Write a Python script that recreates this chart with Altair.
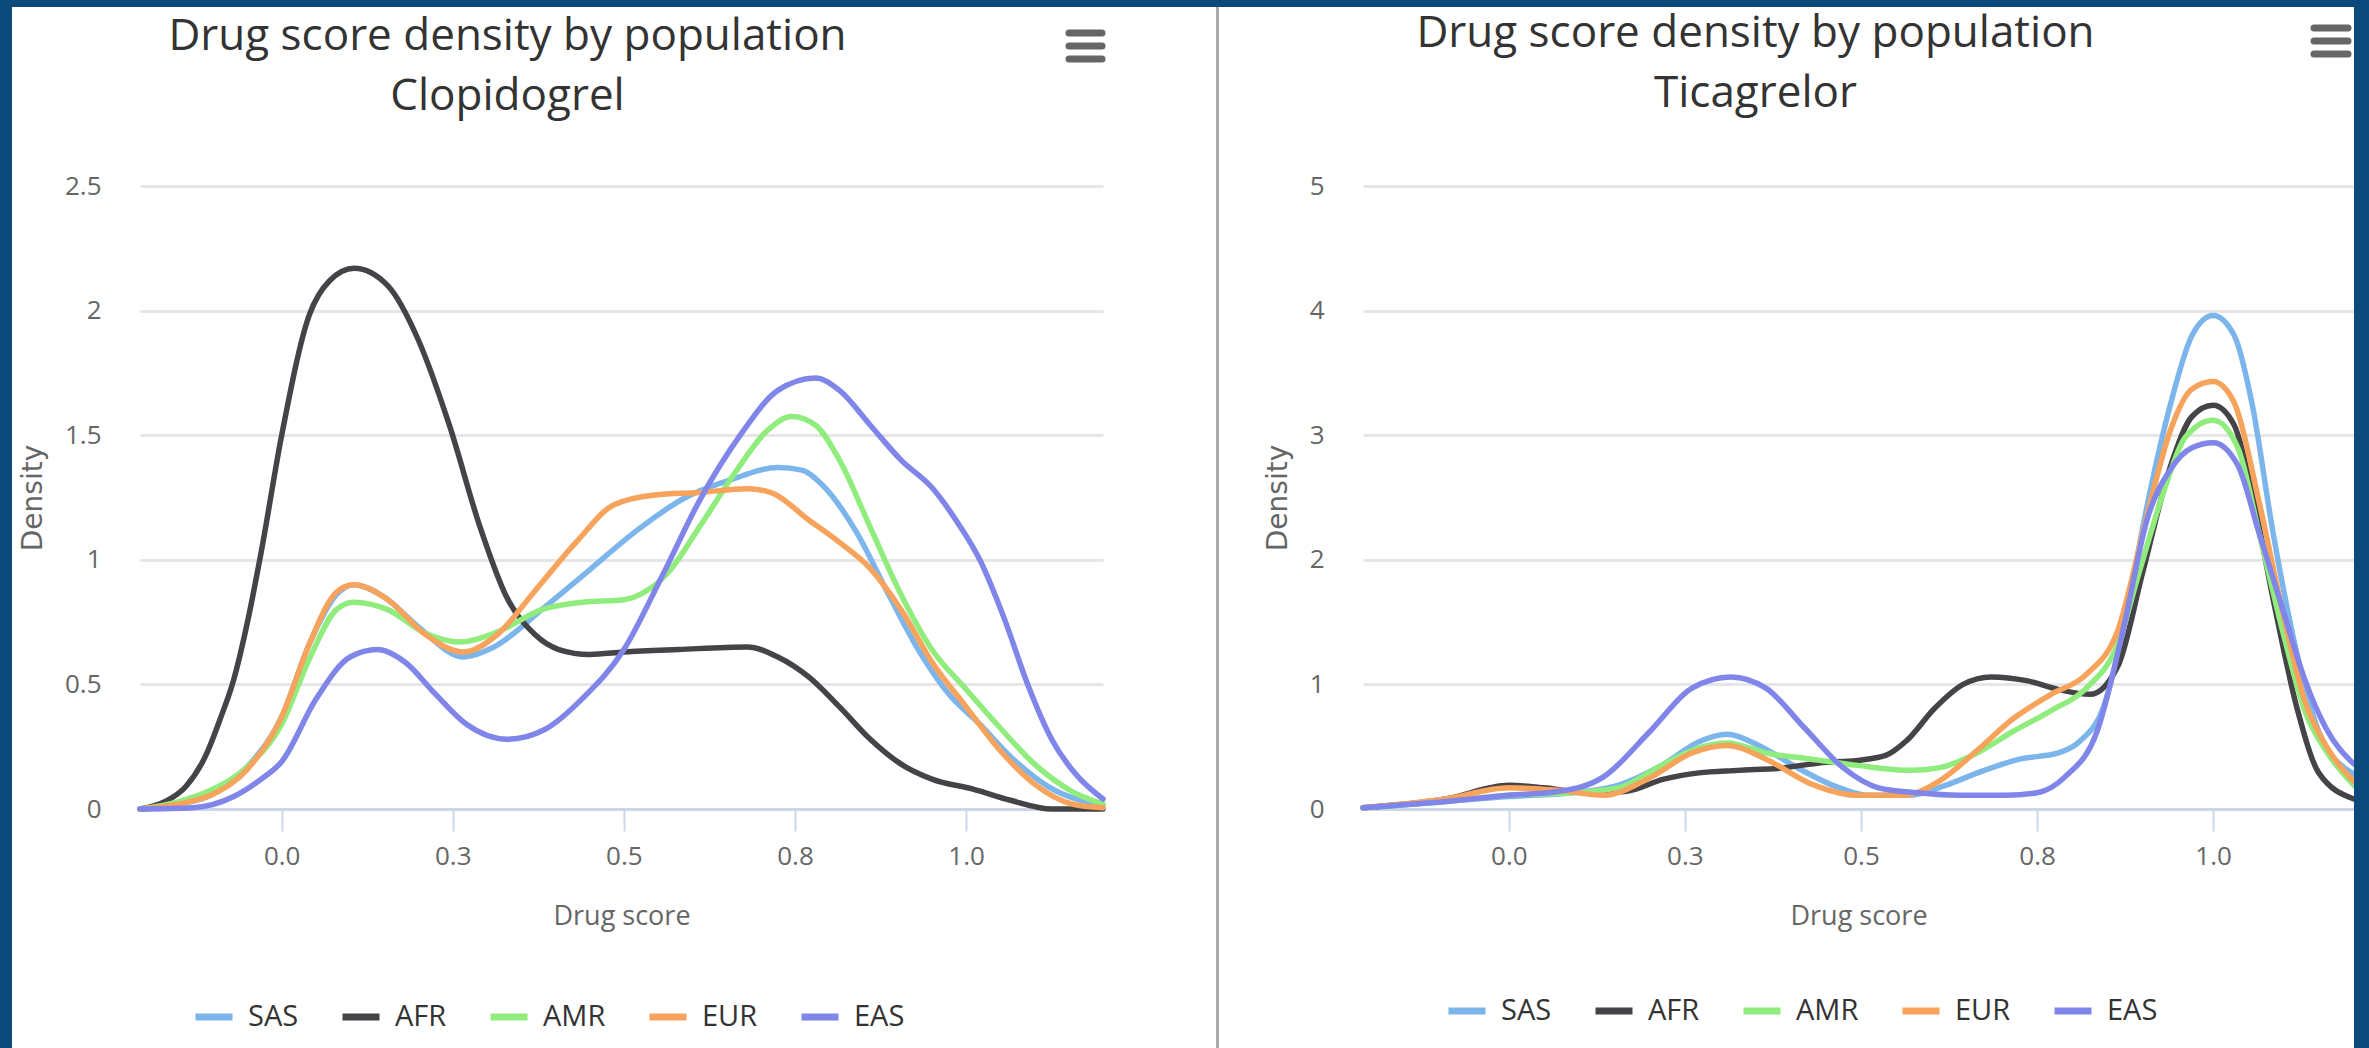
import altair as alt
import pandas as pd

# Populations, in legend / drawing order, with their line colours
POPULATIONS = ["SAS", "AFR", "AMR", "EUR", "EAS"]
COLORS = ["#7cb5ec", "#434348", "#90ed7d", "#f7a35c", "#8085e9"]

X_TICKS = [0.0, 0.25, 0.5, 0.75, 1.0]

# ---- Clopidogrel density curves (drug score, density) ----
clop_sas_x = [-0.207, -0.15, -0.10, -0.05, 0.0, 0.04, 0.08, 0.105, 0.15, 0.20, 0.265, 0.31, 0.38, 0.45,
              0.52, 0.59, 0.655, 0.725, 0.76, 0.79, 0.84, 0.885, 0.93, 0.975, 1.02, 1.065, 1.12, 1.2]
clop_sas_y = [0.0, 0.02, 0.06, 0.17, 0.37, 0.66, 0.86, 0.90, 0.85, 0.73, 0.61, 0.65, 0.80, 0.96,
              1.12, 1.25, 1.32, 1.37, 1.36, 1.30, 1.11, 0.87, 0.64, 0.46, 0.34, 0.21, 0.09, 0.015]

clop_afr_x = [-0.207, -0.17, -0.14, -0.11, -0.09, -0.07, -0.05, -0.03, 0.0, 0.04, 0.07, 0.106, 0.155,
              0.20, 0.245, 0.29, 0.327, 0.37, 0.405, 0.45, 0.50, 0.58, 0.68, 0.725, 0.77, 0.815, 0.86,
              0.905, 0.95, 1.01, 1.065, 1.125, 1.2]
clop_afr_y = [0.0, 0.03, 0.09, 0.22, 0.36, 0.52, 0.75, 1.03, 1.50, 1.98, 2.12, 2.17, 2.10,
              1.88, 1.54, 1.13, 0.86, 0.70, 0.64, 0.62, 0.63, 0.64, 0.65, 0.61, 0.53, 0.41, 0.28,
              0.18, 0.12, 0.08, 0.035, 0.0, 0.0]

clop_amr_x = [-0.207, -0.15, -0.10, -0.05, 0.0, 0.04, 0.08, 0.105, 0.155, 0.21, 0.26, 0.315, 0.38,
              0.44, 0.50, 0.53, 0.565, 0.61, 0.665, 0.71, 0.745, 0.78, 0.815, 0.86, 0.905, 0.95, 1.0,
              1.045, 1.10, 1.155, 1.2]
clop_amr_y = [0.0, 0.03, 0.08, 0.17, 0.34, 0.60, 0.80, 0.83, 0.80, 0.705, 0.67, 0.71, 0.80,
              0.83, 0.84, 0.87, 0.95, 1.13, 1.36, 1.52, 1.575, 1.54, 1.40, 1.13, 0.86, 0.64, 0.48,
              0.34, 0.18, 0.07, 0.02]

clop_eur_x = [-0.207, -0.15, -0.10, -0.05, 0.0, 0.04, 0.08, 0.105, 0.155, 0.21, 0.265, 0.315, 0.37,
              0.43, 0.485, 0.545, 0.61, 0.68, 0.715, 0.77, 0.815, 0.86, 0.905, 0.95, 1.0, 1.045, 1.10,
              1.155, 1.2]
clop_eur_y = [0.0, 0.02, 0.06, 0.16, 0.37, 0.66, 0.87, 0.90, 0.84, 0.70, 0.63, 0.70, 0.875,
              1.07, 1.22, 1.26, 1.27, 1.285, 1.27, 1.16, 1.07, 0.965, 0.80, 0.59, 0.41, 0.25, 0.10,
              0.02, 0.005]

clop_eas_x = [-0.207, -0.13, -0.07, -0.03, 0.0, 0.05, 0.10, 0.14, 0.18, 0.225, 0.27, 0.33, 0.385,
              0.44, 0.50, 0.555, 0.61, 0.67, 0.725, 0.78, 0.815, 0.86, 0.905, 0.95, 0.985, 1.02,
              1.055, 1.09, 1.125, 1.16, 1.2]
clop_eas_y = [0.0, 0.005, 0.05, 0.12, 0.19, 0.44, 0.61, 0.64, 0.59, 0.46, 0.34, 0.28, 0.32,
              0.445, 0.64, 0.93, 1.235, 1.50, 1.68, 1.73, 1.68, 1.54, 1.40, 1.29, 1.16, 1.00,
              0.77, 0.50, 0.28, 0.14, 0.04]

# ---- Ticagrelor density curves ----
tica_sas_x = [-0.207, -0.09, 0.0, 0.09, 0.155, 0.22, 0.27, 0.31, 0.355, 0.41, 0.46, 0.515, 0.57, 0.62,
              0.675, 0.725, 0.78, 0.81, 0.845, 0.875, 0.905, 0.94, 0.97, 1.0, 1.03, 1.055, 1.085,
              1.12, 1.15, 1.2]
tica_sas_y = [0.01, 0.06, 0.10, 0.13, 0.19, 0.36, 0.54, 0.60, 0.51, 0.33, 0.19, 0.11, 0.11, 0.19,
              0.31, 0.40, 0.45, 0.54, 0.83, 1.51, 2.40, 3.26, 3.80, 3.96, 3.80, 3.26, 2.22,
              1.22, 0.62, 0.28]

tica_afr_x = [-0.207, -0.09, 0.0, 0.05, 0.11, 0.165, 0.22, 0.27, 0.325, 0.39, 0.44, 0.495, 0.535,
              0.565, 0.605, 0.645, 0.685, 0.735, 0.78, 0.825, 0.865, 0.90, 0.94, 0.97, 1.0, 1.03, 1.055,
              1.085, 1.12, 1.15, 1.2]
tica_afr_y = [0.01, 0.08, 0.19, 0.17, 0.13, 0.14, 0.24, 0.29, 0.31, 0.33, 0.37, 0.39, 0.43,
              0.55, 0.81, 1.00, 1.06, 1.03, 0.96, 0.92, 1.15, 1.90, 2.76, 3.15, 3.24, 3.08, 2.55,
              1.69, 0.79, 0.29, 0.08]

tica_amr_x = [-0.207, -0.09, 0.0, 0.09, 0.155, 0.22, 0.27, 0.31, 0.365, 0.43, 0.495, 0.57, 0.61,
              0.665, 0.715, 0.77, 0.82, 0.865, 0.895, 0.93, 0.96, 1.0, 1.035, 1.065, 1.1, 1.13,
              1.16, 1.2]
tica_amr_y = [0.01, 0.06, 0.11, 0.13, 0.17, 0.36, 0.49, 0.53, 0.45, 0.40, 0.35, 0.31, 0.33,
              0.45, 0.62, 0.79, 0.97, 1.33, 1.90, 2.55, 2.98, 3.12, 2.90, 2.22, 1.40, 0.79,
              0.47, 0.19]

tica_eur_x = [-0.207, -0.09, 0.0, 0.07, 0.135, 0.2, 0.26, 0.31, 0.365, 0.43, 0.495, 0.56, 0.61,
              0.665, 0.715, 0.77, 0.82, 0.865, 0.905, 0.94, 0.97, 1.0, 1.03, 1.065, 1.1, 1.13,
              1.16, 1.2]
tica_eur_y = [0.01, 0.08, 0.17, 0.15, 0.11, 0.25, 0.45, 0.51, 0.40, 0.20, 0.11, 0.11, 0.22,
              0.47, 0.72, 0.92, 1.08, 1.44, 2.33, 3.05, 3.37, 3.43, 3.26, 2.47, 1.55, 0.87,
              0.51, 0.22]

tica_eas_x = [-0.207, -0.09, 0.0, 0.07, 0.135, 0.2, 0.26, 0.315, 0.365, 0.42, 0.475, 0.525, 0.58,
              0.64, 0.705, 0.75, 0.79, 0.835, 0.875, 0.905, 0.94, 0.97, 1.0, 1.035, 1.065, 1.1,
              1.13, 1.16, 1.2]
tica_eas_y = [0.01, 0.06, 0.11, 0.14, 0.26, 0.62, 0.97, 1.06, 0.97, 0.65, 0.33, 0.17, 0.13,
              0.11, 0.11, 0.13, 0.26, 0.62, 1.51, 2.30, 2.73, 2.90, 2.94, 2.76, 2.22, 1.58,
              1.04, 0.65, 0.36]

CLOPIDOGREL = {
    "SAS": (clop_sas_x, clop_sas_y), "AFR": (clop_afr_x, clop_afr_y), "AMR": (clop_amr_x, clop_amr_y),
    "EUR": (clop_eur_x, clop_eur_y), "EAS": (clop_eas_x, clop_eas_y),
}
TICAGRELOR = {
    "SAS": (tica_sas_x, tica_sas_y), "AFR": (tica_afr_x, tica_afr_y), "AMR": (tica_amr_x, tica_amr_y),
    "EUR": (tica_eur_x, tica_eur_y), "EAS": (tica_eas_x, tica_eas_y),
}

FONT = "Open Sans"
FRAME_BLUE = "#0b4a7b"
PLOT_H = 623
TOP = -186            # top edge of the page, relative to the plot origin
BOTTOM = PLOT_H + 239  # bottom edge of the page


def long_table(series):
    rows = []
    for pop in POPULATIONS:
        xs, ys = series[pop]
        for x, y in zip(xs, ys):
            rows.append({"population": pop, "score": x, "density": y})
    return pd.DataFrame(rows)


def strip(one, x1, x2, y1, y2, color=FRAME_BLUE):
    return alt.Chart(one).mark_rect(color=color).encode(
        x=alt.value(x1), x2=alt.value(x2), y=alt.value(y1), y2=alt.value(y2))


def panel(series, drug, width, ymax, ystep, span_left, span_right, frame_left, frame_right,
          title_dx, title_offset, legend_x, legend_y, menu_x1, menu_x2, menu_ys, divider_x=None):
    one = pd.DataFrame({"panel": [drug]})

    yvals = [round(i * ystep, 2) for i in range(int(round(ymax / ystep)) + 1)]

    lines = alt.Chart(long_table(series)).mark_line(
        interpolate="monotone", strokeWidth=5.5, strokeCap="round", strokeJoin="round"
    ).encode(
        x=alt.X("score:Q",
                scale=alt.Scale(domain=[-0.207, 1.2], nice=False, zero=False),
                axis=alt.Axis(values=X_TICKS, format=".1f", title="Drug score",
                              titleFont=FONT, titleFontSize=27, titleFontWeight="normal",
                              titleColor="#666666", titlePadding=34,
                              labelFont=FONT, labelFontSize=26, labelColor="#666666",
                              labelPadding=12, labelFlush=False,
                              tickSize=22, tickColor="#ccd6eb", tickWidth=2,
                              domainColor="#ccd6eb", domainWidth=3, grid=False)),
        y=alt.Y("density:Q",
                scale=alt.Scale(domain=[0, ymax], nice=False),
                axis=alt.Axis(values=yvals, format="~g", title="Density",
                              titleFont="DejaVu Sans", titleFontSize=28, titleFontWeight="normal",
                              titleColor="#666666", titlePadding=17,
                              labelFont=FONT, labelFontSize=26, labelColor="#666666",
                              labelPadding=39, labelFlush=False, ticks=False, tickSize=0,
                              domain=False, grid=True, gridColor="#e6e6e6", gridWidth=3)),
        color=alt.Color("population:N",
                        scale=alt.Scale(domain=POPULATIONS, range=COLORS),
                        legend=alt.Legend(orient="none", legendX=legend_x, legendY=legend_y,
                                          direction="horizontal", columns=5, title=None,
                                          symbolType="stroke", symbolSize=1369,
                                          symbolStrokeWidth=7, labelFont=FONT, labelFontSize=29,
                                          labelColor="#333333", labelOffset=12,
                                          columnPadding=29, padding=0)),
    )

    # blue page frame around the white card
    layers = [lines, strip(one, span_left, span_right, TOP, TOP + 7)]
    if frame_left:
        layers.append(strip(one, span_left, span_left + frame_left, TOP, BOTTOM))
    if frame_right:
        layers.append(strip(one, span_right - frame_right, span_right, TOP, BOTTOM))

    # context-menu glyph in the corner
    for my in menu_ys:
        layers.append(
            alt.Chart(one).mark_rule(color="#666666", strokeWidth=7, strokeCap="round").encode(
                x=alt.value(menu_x1), x2=alt.value(menu_x2), y=alt.value(my)))

    if divider_x is not None:
        layers.append(
            alt.Chart(one).mark_rule(color="#a9a9a9", strokeWidth=3).encode(
                x=alt.value(divider_x), y=alt.value(TOP + 7), y2=alt.value(BOTTOM)))

    return alt.layer(*layers).properties(
        width=width, height=PLOT_H,
        title=alt.TitleParams(
            text=["Drug score density by population", drug],
            font=FONT, fontSize=44, fontWeight="normal", color="#333333",
            lineHeight=60, anchor="middle", baseline="top",
            dx=title_dx, offset=title_offset,
        ),
    )


left = panel(CLOPIDOGREL, "Clopidogrel", 963, 2.5, 0.5,
             span_left=-140, span_right=963 + 116, frame_left=12, frame_right=0,
             title_dx=-114, title_offset=-119,
             legend_x=52, legend_y=809, menu_x1=929, menu_x2=962,
             menu_ys=[-153, -140, -127], divider_x=963 + 114.5)

right = panel(TICAGRELOR, "Ticagrelor", 991, 5, 1,
              span_left=-144, span_right=991 + 15, frame_left=0, frame_right=15,
              title_dx=-103, title_offset=-116,
              legend_x=82, legend_y=803, menu_x1=951, menu_x2=985,
              menu_ys=[-158, -145, -132])

chart = alt.hconcat(left, right, spacing=0).resolve_scale(
    x="independent", y="independent", color="independent"
).resolve_legend(color="independent").properties(
    background="white",
    padding=0,
).configure_view(strokeWidth=0)

chart.save("out.html", embed_options={"renderer": "svg", "actions": False})
